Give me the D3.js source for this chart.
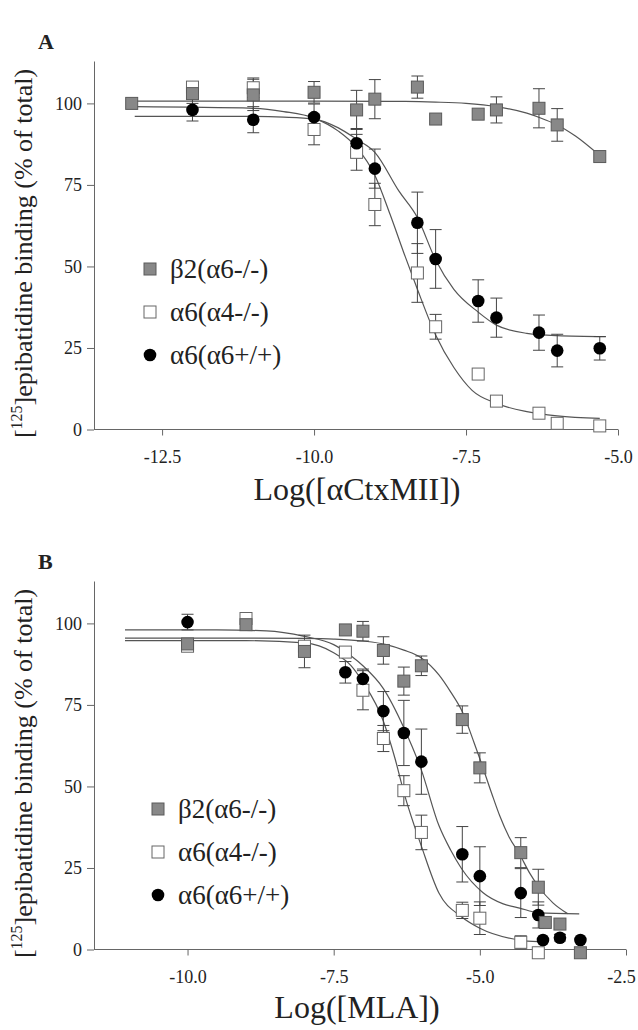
<!DOCTYPE html>
<html lang="en">
<head>
    <meta charset="UTF-8">
    <title>Epibatidine binding inhibition</title>
    <script src="https://cdnjs.cloudflare.com/ajax/libs/d3/7.8.5/d3.min.js"></script>
    <style>
        body { margin: 0; background: #fff; }
        svg text { font-family: "Times New Roman", "Liberation Serif", Times, serif; fill: #222; }
    </style>
</head>
<body>
<div id="chart"></div>
<script>
    // legend names
    const groups = ["β2(α6-/-)", "α6(α4-/-)", "α6(α6+/+)"];
    const yTicks = [0, 25, 50, 75, 100];
    const xTicksA = [-12.5, -10.0, -7.5, -5.0];
    const xTicksB = [-10.0, -7.5, -5.0, -2.5];

    // panel A, [log conc, % bound, sem]
    const aBeta2 = [[-13,100,0],[-12,103,3],[-11,102.6,4.8],[-10,103.4,3.3],[-9.3,98,6],[-9,101.3,6],[-8.3,105,3.4],[-8,95.2,0],[-7.3,96.7,0],[-7,98,4],[-6.3,98.5,6],[-6,93.4,5],[-5.3,83.7,0]];
    const aAlpha4 = [[-12,105,1.5],[-11,104.8,3],[-10,92,4.7],[-9.3,85,5.5],[-9,69,6.5],[-8.3,48,9],[-8,31.5,3.8],[-7.3,17,0],[-7,8.7,0],[-6.3,5,0],[-6,1.9,0],[-5.3,1.1,0]];
    const aWild = [[-12,98,3.4],[-11,95,4],[-10,95.8,4],[-9.3,87.8,4.5],[-9,80,6],[-8.3,63.4,9.4],[-8,52.3,9],[-7.3,39.4,6.5],[-7,34.3,6],[-6.3,29.7,5.4],[-6,24.2,5],[-5.3,24.9,3.6]];
    // fitted curves
    const aBeta2Fit = [[-13,100.7],[-10,100.7],[-8.5,100.6],[-8,100.4],[-7.5,100],[-7,99],[-6.5,97],[-6.2,95],[-6,93.4],[-5.7,90],[-5.3,84]];
    const aAlpha4Fit = [[-12.95,99],[-11,98.5],[-10.5,97.5],[-10,95.5],[-9.6,91.5],[-9.3,86.5],[-9,78],[-8.75,66],[-8.5,53],[-8.3,43],[-8,29],[-7.7,19],[-7.4,12],[-7,8],[-6.5,5.5],[-6,4.2],[-5.3,3.4]];
    const aWildFit = [[-12.95,96],[-11,96],[-10.5,95.8],[-10,95.2],[-9.6,92.5],[-9.3,89],[-9,85],[-8.6,73],[-8.3,65],[-8,52],[-7.7,43],[-7.3,36],[-7,32],[-6.5,29.5],[-6,28.8],[-5.2,28.5]];

    // panel B
    const bBeta2 = [[-10,93.7,0],[-9,99.6,0],[-8,91.4,5],[-7.3,98,0],[-7,97.6,3],[-6.65,91.7,4.2],[-6.3,82.3,4.3],[-6,87,3],[-5.3,70.5,4.2],[-5,55.7,4.6],[-4.3,29.7,4.6],[-4,19.1,5.5],[-3.88,8.3,0],[-3.63,7.8,0],[-3.28,-1,0]];
    const bAlpha4 = [[-10,93,0],[-9,101.5,1],[-8,93,0],[-7.3,91.2,0],[-7,79.5,6],[-6.65,64.7,4],[-6.3,48.7,4.6],[-6,35.9,5.3],[-5.3,12,2.5],[-5,9.6,5],[-4.3,2.2,2],[-4,-1,0]];
    const bWild = [[-10,100.4,2.4],[-7.3,85,3.3],[-7,83,3],[-6.65,73.1,6],[-6.3,66.4,10],[-6,57.6,10],[-5.3,29.2,8.5],[-5,22.5,9],[-4.3,17.3,7.5],[-4,10.6,4],[-3.92,2.9,0],[-3.63,3.6,1],[-3.28,2.9,0]];
    const bBeta2Fit = [[-11.07,95.5],[-9,95.5],[-8,95.4],[-7.5,95.2],[-7,94.6],[-6.6,93.5],[-6.3,91.8],[-6,89.4],[-5.7,84.2],[-5.5,79],[-5.3,72.9],[-5.1,63.5],[-5,58.5],[-4.8,48],[-4.66,41],[-4.5,34.5],[-4.32,29.2],[-4.15,23.5],[-4,19.4],[-3.75,14.3],[-3.5,11]];
    const bAlpha4Fit = [[-11.07,94.7],[-9,94.7],[-8,94],[-7.5,91],[-7.2,87],[-7,82],[-6.65,70],[-6.45,58.5],[-6.3,48.2],[-6,31.7],[-5.7,17.3],[-5.32,10.1],[-5,6.5],[-4.32,2.9],[-4,2.4]];
    const bWildFit = [[-11.07,98],[-9.5,98],[-8.65,97.7],[-8,96],[-7.5,93.5],[-7.2,90],[-7,87],[-6.65,80],[-6.3,68],[-6,55],[-5.7,38],[-5.5,30.5],[-5.32,25],[-4.95,17.5],[-4.6,14],[-4.32,12.7],[-4,11.3],[-3.3,10.9]];

    const width = 638, height = 1030;
    const serif = '"Times New Roman", "Liberation Serif", Times, serif';
    const svg = d3.select("#chart").append("svg")
        .attr("width", width)
        .attr("height", height);

    function drawPanel(p) {
        const x = d3.scaleLinear().domain(p.xDomain).range([94, p.xRight]);
        const y = d3.scaleLinear().domain([0, 113]).range([p.yBottom, p.yBottom - 368.5]);
        const g = svg.append("g");

        g.append("text")
            .attr("x", 38).attr("y", p.yBottom - 381)
            .attr("font-size", 22).attr("font-weight", "bold")
            .text(p.letter);

        const fmt = d => d3.format(".1f")(d).replace("−", "-");
        const ax = g.append("g")
            .attr("transform", `translate(0,${p.yBottom})`)
            .call(d3.axisBottom(x).tickValues(p.xTicks).tickFormat(fmt).tickSize(6).tickSizeOuter(0).tickPadding(15));
        const ay = g.append("g")
            .attr("transform", "translate(94,0)")
            .call(d3.axisLeft(y).tickValues(yTicks).tickSize(7).tickSizeOuter(0).tickPadding(5));
        [ax, ay].forEach(a => {
            a.attr("font-family", serif);
            a.selectAll("path, line").attr("stroke", "#666");
            a.selectAll("text").attr("font-size", 18).attr("fill", "#222");
        });
        ax.select(".domain").attr("d", `M94,0H${p.xRight}`);
        // keep the last label inside the frame
        ax.selectAll(".tick text").filter(d => d === -2.5).attr("dx", -5);

        g.append("text")
            .attr("x", 357).attr("y", p.yBottom + p.titleDy)
            .attr("text-anchor", "middle").attr("font-size", 32)
            .text(p.xTitle);

        const yl = g.append("text")
            .attr("transform", `translate(32,${p.yBottom - 176}) rotate(-90)`)
            .attr("text-anchor", "middle").attr("font-size", 26);
        yl.append("tspan").text("[");
        yl.append("tspan").attr("font-size", 16).attr("dy", -10).text("125");
        yl.append("tspan").attr("dy", 10).text("]epibatidine binding (% of total)");

        const line = d3.line().x(d => x(d[0])).y(d => y(d[1])).curve(d3.curveMonotoneX);
        p.fits.forEach(f => {
            g.append("path").datum(f)
                .attr("fill", "none").attr("stroke", "#555").attr("stroke-width", 1.2)
                .attr("d", line);
        });

        // error bars first
        p.series.forEach(s => {
            const eb = g.append("g").attr("stroke", "#444").attr("stroke-width", 1);
            const withErr = s.data.filter(d => d[2] > 0);
            eb.selectAll(".v").data(withErr).join("line")
                .attr("x1", d => x(d[0])).attr("x2", d => x(d[0]))
                .attr("y1", d => y(d[1] - d[2])).attr("y2", d => y(d[1] + d[2]));
            eb.selectAll(".t").data(withErr).join("line")
                .attr("x1", d => x(d[0]) - 6).attr("x2", d => x(d[0]) + 6)
                .attr("y1", d => y(d[1] + d[2])).attr("y2", d => y(d[1] + d[2]));
            eb.selectAll(".b").data(withErr).join("line")
                .attr("x1", d => x(d[0]) - 6).attr("x2", d => x(d[0]) + 6)
                .attr("y1", d => y(d[1] - d[2])).attr("y2", d => y(d[1] - d[2]));
        });

        p.series.forEach(s => {
            const m = g.append("g");
            if (s.shape === "circle") {
                m.selectAll("circle").data(s.data).join("circle")
                    .attr("cx", d => x(d[0])).attr("cy", d => y(d[1])).attr("r", 6.3)
                    .attr("fill", s.fill);
            } else {
                m.selectAll("rect").data(s.data).join("rect")
                    .attr("x", d => x(d[0]) - 6).attr("y", d => y(d[1]) - 6)
                    .attr("width", 12).attr("height", 12)
                    .attr("fill", s.fill).attr("stroke", s.stroke).attr("stroke-width", 1);
            }
        });

        // legend
        const leg = g.append("g");
        p.legendOrder.forEach((s, i) => {
            const ly = p.legendY + i * 43;
            if (s.shape === "circle") {
                leg.append("circle").attr("cx", p.legendX).attr("cy", ly).attr("r", 6.3).attr("fill", s.fill);
            } else {
                leg.append("rect").attr("x", p.legendX - 6).attr("y", ly - 6)
                    .attr("width", 12).attr("height", 12)
                    .attr("fill", s.fill).attr("stroke", s.stroke);
            }
            leg.append("text").attr("x", p.legendX + 20).attr("y", ly + 9)
                .attr("font-size", 27).text(groups[i]);
        });
    }

    const sA = [
        { data: aAlpha4, shape: "square", fill: "#fff", stroke: "#666" },
        { data: aWild, shape: "circle", fill: "#000" },
        { data: aBeta2, shape: "square", fill: "#888", stroke: "#5a5a5a" }
    ];
    const sB = [
        { data: bAlpha4, shape: "square", fill: "#fff", stroke: "#666" },
        { data: bWild, shape: "circle", fill: "#000" },
        { data: bBeta2, shape: "square", fill: "#888", stroke: "#5a5a5a" }
    ];

    drawPanel({
        letter: "A", xDomain: [-13.62, -5.0], xRight: 618, yBottom: 429.5,
        xTicks: xTicksA, xTitle: "Log([αCtxMII])", titleDy: 70,
        fits: [aBeta2Fit, aAlpha4Fit, aWildFit], series: sA,
        legendOrder: [sA[2], sA[0], sA[1]], legendX: 150, legendY: 269
    });
    drawPanel({
        letter: "B", xDomain: [-11.6, -2.5], xRight: 626, yBottom: 949.5,
        xTicks: xTicksB, xTitle: "Log([MLA])", titleDy: 68,
        fits: [bBeta2Fit, bAlpha4Fit, bWildFit], series: sB,
        legendOrder: [sB[2], sB[0], sB[1]], legendX: 158, legendY: 809
    });
</script>
</body>
</html>
